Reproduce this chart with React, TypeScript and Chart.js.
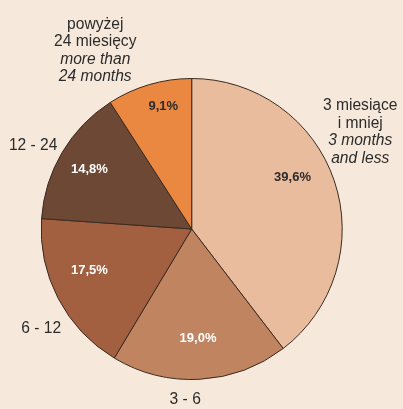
import React, { useEffect, useRef } from "react";
import { Chart, registerables } from "chart.js";

Chart.register(...registerables);

const categories = ["3 miesiące i mniej", "3 - 6", "6 - 12", "12 - 24", "powyżej 24 miesięcy"];
const values = [39.6, 19.0, 17.5, 14.8, 9.1];
const sliceColors = ["#e9bc9e", "#c18461", "#a26040", "#6c4835", "#ea8842"];
const valueTextColors = ["#2b2b2b", "#ffffff", "#ffffff", "#ffffff", "#2b2b2b"];
// outer label lines: [text, italic]
const outerLabels: [string, boolean][][] = [
  [["3 miesiące", false], ["i mniej", false], ["3 months", true], ["and less", true]],
  [["3 - 6", false]],
  [["6 - 12", false]],
  [["12 - 24", false]],
  [["powyżej", false], ["24 miesięcy", false], ["more than", true], ["24 months", true]],
];
// offsets relative to the slice's mid-angle point on the outer edge
const outerOffsets = [[26, -48.5], [-15, 20], [-17, 30], [-29, -7], [-54, -34]];
const valueOffsets = [[-41.7, -3.5], [-2.2, -40.8], [31.2, -27.8], [27.3, 16.9], [14, 22]];

const labelPlugin = {
  id: "labels",
  afterDatasetsDraw(chart: any) {
    const ctx = chart.ctx;
    const meta = chart.getDatasetMeta(0);
    meta.data.forEach((arc: any, i: number) => {
      const mid = (arc.startAngle + arc.endAngle) / 2;
      const ax = arc.x + Math.cos(mid) * arc.outerRadius;
      const ay = arc.y + Math.sin(mid) * arc.outerRadius;
      ctx.save();
      ctx.textAlign = "center";
      ctx.textBaseline = "middle";
      // value
      ctx.font = "bold 13px 'Liberation Sans', Arial, sans-serif";
      ctx.fillStyle = valueTextColors[i];
      ctx.fillText(values[i].toFixed(1).replace(".", ",") + "%", ax + valueOffsets[i][0], ay + valueOffsets[i][1]);
      // outer label
      const lines = outerLabels[i];
      const lh = 17.6;
      const cx = ax + outerOffsets[i][0];
      const cy = ay + outerOffsets[i][1];
      ctx.fillStyle = "#2b2b2b";
      lines.forEach(([t, it], j) => {
        ctx.font = (it ? "italic " : "") + "15.6px 'Liberation Sans', Arial, sans-serif";
        ctx.fillText(t, cx, cy + (j - (lines.length - 1) / 2) * lh);
      });
      ctx.restore();
    });
  },
};

export default function App() {
  const ref = useRef<HTMLCanvasElement>(null);
  useEffect(() => {
    document.body.style.margin = "0";
    const chart = new Chart(ref.current!, {
      type: "pie",
      data: {
        labels: categories,
        datasets: [
          {
            data: values,
            backgroundColor: sliceColors,
            borderColor: "#3a2a20",
            borderWidth: 1,
          },
        ],
      },
      options: {
        animation: false,
        responsive: false,
        layout: { padding: { left: 40.7, right: 60.3, top: 78, bottom: 29 } },
        plugins: { legend: { display: false }, tooltip: { enabled: false } },
      },
      plugins: [labelPlugin],
    });
    return () => chart.destroy();
  }, []);
  return (
    <div style={{ width: 403, height: 409, background: "#f6e9db" }}>
      <canvas ref={ref} width={403} height={409} style={{ display: "block" }} />
    </div>
  );
}
